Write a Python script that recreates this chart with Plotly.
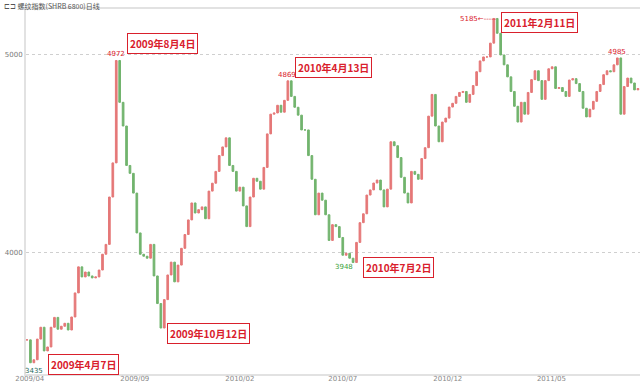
import numpy as np
import pandas as pd
import plotly.graph_objects as go

# ---- data ----
start_date = "2009-03-28"
step = "5D"
closes = [
    3556, 3440, 3455, 3560, 3620, 3500, 3520, 3620, 3670, 3610,
    3625, 3640, 3606, 3672, 3794, 3926, 3875, 3900, 3880, 3870,
    3875, 3910, 3990, 4040, 4280, 4453, 4972, 4760, 4640, 4440,
    4400, 4300, 4098, 3990, 3980, 3970, 4040, 3880, 3740, 3616,
    3760, 3885, 3950, 3850, 3935, 4020, 4090, 4164, 4250, 4199,
    4216, 4230, 4170, 4310, 4350, 4410, 4490, 4534, 4580, 4440,
    4410, 4310, 4330, 4235, 4130, 4280, 4375, 4360, 4320, 4430,
    4600, 4700, 4706, 4745, 4710, 4770, 4869, 4790, 4735, 4695,
    4620, 4620, 4490, 4370, 4190, 4300, 4264, 4190, 4060, 4140,
    4130, 4075, 3985, 3995, 3970, 3948, 4050, 4150, 4195, 4290,
    4316, 4351, 4366, 4316, 4230, 4320, 4560, 4540, 4480, 4380,
    4300, 4250, 4410, 4395, 4370, 4475, 4530, 4690, 4800, 4640,
    4560, 4660, 4680, 4736, 4755, 4790, 4810, 4815, 4760, 4800,
    4845, 4915, 4970, 4990, 4990, 5060, 5185, 5110, 5000, 4950,
    4889, 4815, 4740, 4660, 4760, 4700, 4810, 4875, 4920, 4870,
    4775, 4870, 4930, 4940, 4830, 4835, 4815, 4790, 4873, 4880,
    4855, 4815, 4730, 4686, 4725, 4765, 4815, 4850, 4900, 4920,
    4915, 4950, 4985, 4700, 4840, 4883, 4858, 4823, 4830,
]
tick_dates = ["2009-04-01", "2009-09-01", "2010-02-01", "2010-07-01", "2010-12-01", "2011-05-01"]
tick_labels = ["2009/04", "2009/09", "2010/02", "2010/07", "2010/12", "2011/05"]
y_ticks = [4000, 5000]
title_text = "⊏⊐ 螺纹指数(SHRB 6800)日线"

# marked extremes: (index into series, box label, value label)
events_idx = [1, 26, 39, 76, 95, 136, 172]
events_box = ["2009年4月7日", "2009年8月4日", "2009年10月12日", "2010年4月13日",
              "2010年7月2日", "2011年2月11日", None]
events_val = ["3435", "4972", None, "4869", "3948", "5185←-----", "4985"]

# ---- build OHLC ----
dates = pd.date_range(start_date, periods=len(closes), freq=step)
c = np.array(closes, dtype=float)
o = np.concatenate([[c[0]], c[:-1]])
h = np.maximum(o, c)
l = np.minimum(o, c)

UP = "#e57878"
DOWN = "#72b46e"
RED = "#d9202c"

fig = go.Figure(go.Candlestick(
    x=dates, open=o, high=h, low=l, close=c,
    increasing=dict(line=dict(color=UP, width=1), fillcolor=UP),
    decreasing=dict(line=dict(color=DOWN, width=1), fillcolor=DOWN),
    whiskerwidth=0, showlegend=False, hoverinfo="skip",
))

cjk = "Noto Sans CJK SC"
box_shift = {1: (53, -2), 26: (46, 17), 39: (48, -5), 76: (46, 13), 95: (45, -5), 136: (46, -4)}
val_shift = {1: (4, -8, "#1f6b5a"), 26: (0, 6, RED), 76: (-1, 6, RED), 95: (-9, -4, "#3aa23a"),
             136: (-15, -1, RED), 172: (0, 6, RED)}

for idx, box, val in zip(events_idx, events_box, events_val):
    xd, yv = dates[idx], closes[idx]
    if box:
        dx, dy = box_shift[idx]
        fig.add_annotation(x=xd, y=yv, xref="x", yref="y", text=f"<b>{box}</b>",
                           showarrow=False, xshift=dx, yshift=dy,
                           font=dict(family=cjk, size=10, color=RED),
                           bgcolor="white", bordercolor=RED, borderwidth=1, borderpad=2)
    if val:
        dx, dy, col = val_shift[idx]
        fig.add_annotation(x=xd, y=yv, xref="x", yref="y", text=val,
                           showarrow=False, xshift=dx, yshift=dy,
                           font=dict(family="DejaVu Sans", size=7, color=col))

fig.add_annotation(x=0, y=1, xref="paper", yref="paper", xanchor="left", yanchor="bottom",
                   xshift=-24, yshift=-4, text=title_text, showarrow=False,
                   font=dict(family=cjk, size=7, color="#555"))

fig.update_layout(
    width=640, height=384,
    margin=dict(l=26, r=0, t=9, b=10),
    paper_bgcolor="white", plot_bgcolor="white",
    xaxis=dict(
        type="date", rangeslider=dict(visible=False),
        range=["2009-03-26 13:00", "2011-09-07"],
        tickvals=tick_dates, ticktext=tick_labels,
        tickfont=dict(family="DejaVu Sans", size=7, color="#888"),
        showgrid=False, showline=True, linecolor="#e2e2e2", linewidth=2,
        ticks="", ticklen=0, automargin=False, mirror=True,
        ticklabelstandoff=-3,
    ),
    yaxis=dict(
        range=[3383, 5233], tickvals=y_ticks,
        tickfont=dict(family="DejaVu Sans", size=7, color="#777"),
        showgrid=True, gridcolor="#cfcfcf", griddash="dot", gridwidth=1,
        showline=True, linecolor="#e2e2e2", linewidth=2, zeroline=False,
        ticks="", automargin=False,
    ),
)

fig.write_html("out.html", config={"displayModeBar": False},
               post_script="document.body.style.margin='0px';document.body.style.overflow='hidden';")
